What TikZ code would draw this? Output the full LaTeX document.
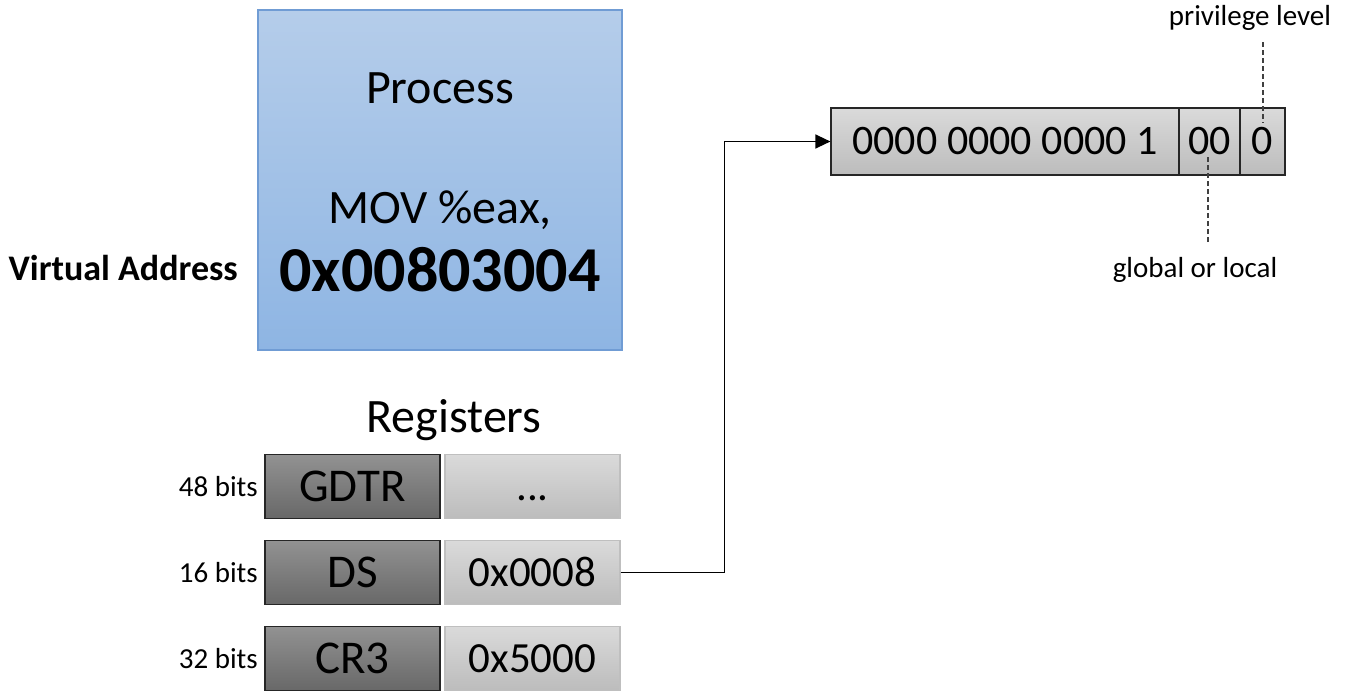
\documentclass[tikz,border=0pt]{standalone}
\usepackage{fontspec}
\setmainfont{Carlito}
\usetikzlibrary{arrows.meta}

\definecolor{procTop}{RGB}{181,205,234}
\definecolor{procBot}{RGB}{142,181,227}
\definecolor{procLine}{RGB}{112,156,212}
\definecolor{darkTop}{RGB}{146,146,146}
\definecolor{darkBot}{RGB}{104,104,104}
\definecolor{lightTop}{RGB}{218,218,218}
\definecolor{lightBot}{RGB}{188,188,188}

\tikzset{
  regname/.style={draw=black!85, line width=1.2pt, top color=darkTop, bottom color=darkBot,
    minimum width=175pt, minimum height=64pt, inner sep=0pt, font=\fontsize{47}{49}\selectfont},
  regval/.style={draw=black!25, line width=1.2pt, top color=lightTop, bottom color=lightBot,
    minimum width=175pt, minimum height=64pt, inner sep=0pt, text height=27pt, text depth=0pt,
    font=\fontsize{43}{45}\selectfont},
  selcell/.style={draw=black!85, line width=1.2pt, top color=lightTop, bottom color=lightBot,
    minimum height=67pt, inner sep=0pt, font=\fontsize{42}{44}\selectfont},
  bitslbl/.style={anchor=east, inner sep=0pt, font=\fontsize{29}{31}\selectfont},
  notelbl/.style={inner sep=0pt, font=\fontsize{29}{31}\selectfont},
  guide/.style={line width=1.3pt, black!75, dash pattern=on 5pt off 3pt},
}

\begin{document}
\begin{tikzpicture}[x=1pt,y=-1pt]
\useasboundingbox (0,0) rectangle (1345,699);

% process
\node[draw=procLine, line width=1.5pt, top color=procTop, bottom color=procBot,
  minimum width=364pt, minimum height=340pt] (proc) at (440,180) {};
\node[font=\fontsize{48}{50}\selectfont] (proctitle) at (440,88) {Process};
\node[font=\fontsize{48}{50}\selectfont] (procinstr) at (440,210) {MOV \%eax,};
\node[font=\fontsize{64}{66}\selectfont\bfseries] (procaddr) at (440,270) {0x00803004};
\node[font=\fontsize{36}{38}\selectfont\bfseries, anchor=east, inner sep=0pt] (vaddr) at (238,268) {Virtual Address};

% registers
\node[font=\fontsize{48}{50}\selectfont] (regs) at (454,420) {Registers};
\node[regname] (gdtr) at (352.5,486.5) {GDTR};
\node[regval] (gdtrval) at (532.5,486.5) {...};
\node[regname] (ds) at (352.5,572.5) {DS};
\node[regval] (dsval) at (532.5,572.5) {0x0008};
\node[regname] (cr3) at (352.5,658.5) {CR3};
\node[regval] (cr3val) at (532.5,658.5) {0x5000};
\node[bitslbl] (gdtrbits) at (258,486.5) {48 bits};
\node[bitslbl] (dsbits) at (258,572.5) {16 bits};
\node[bitslbl] (cr3bits) at (258,658.5) {32 bits};

% segment selector
\node[selcell, minimum width=348pt] (sel) at (1005,141.5) {0000 0000 0000 1};
\node[selcell, minimum width=61pt] (ti) at (1209.5,141.5) {00};
\node[selcell, minimum width=45pt] (rpl) at (1262.5,141.5) {0};
\node[notelbl] (privlbl) at (1250,18) {privilege level};
\node[notelbl] (glbl) at (1195,270) {global or local};
\coordinate (rplend) at (1263,123);
\coordinate (tiend) at (1208,157);

\draw[line width=1.4pt, -{Triangle[length=15pt,width=14pt]}] (dsval.east) -- ++(104,0) |- (sel.west);
\draw[guide] (rplend |- 0,42) -- (rplend);
\draw[guide] (tiend |- 0,242) -- (tiend);

\end{tikzpicture}
\end{document}
